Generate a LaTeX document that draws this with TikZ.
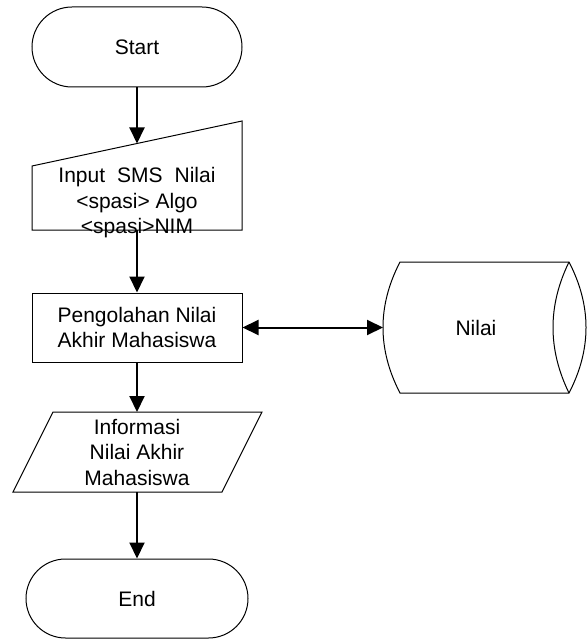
\documentclass[tikz,border=0pt]{standalone}
\usepackage{fontspec}
\setmainfont{Liberation Sans}
\usetikzlibrary{arrows.meta}
\begin{document}
\begin{tikzpicture}[x=1pt,y=-1pt,
  outline/.style={draw=black, line width=1pt},
  flow/.style={line width=2pt, -{Triangle[length=16pt,width=15pt]}},
  both/.style={line width=2pt, {Triangle[length=16pt,width=15pt]}-{Triangle[length=16pt,width=15pt]}},
  txt/.style={font=\fontsize{21}{25.5}\selectfont, align=center, inner sep=0pt, text=black}
]
\useasboundingbox (0,0) rectangle (587,639);

% terminator: Start
\node[outline, txt, rounded corners=40, minimum width=210, minimum height=80] (start) at (137,47) {Start};

% manual input
\draw[outline] (32,166) -- (242,121) -- (242,230) -- (32,230) -- cycle;
\coordinate (inTop) at (137,143.5);
\coordinate (inBot) at (137,230);
\node[txt] (input) at (137,203) {Input\hspace{12pt}SMS\hspace{12pt}Nilai\\<spasi> Algo\\<spasi>NIM};

% process
\node[outline, txt, minimum width=210, minimum height=69] (proc) at (137,327.5) {Pengolahan Nilai\\Akhir Mahasiswa};

% output (parallelogram)
\draw[outline] (53,412) -- (262,412) -- (222,492) -- (13,492) -- cycle;
\coordinate (outTop) at (137,412);
\coordinate (outBot) at (137,492);
\node[txt] (output) at (137,452) {Informasi\\Nilai Akhir\\Mahasiswa};

% terminator: End
\node[outline, txt, rounded corners=39.5, minimum width=222, minimum height=79] (end) at (137,598.5) {End};

% stored data: Nilai
\draw[outline] (400,262) -- (569,262)
  .. controls (591.67,305.67) and (591.67,349.33) .. (569,393) -- (400,393)
  .. controls (377.33,349.33) and (377.33,305.67) .. cycle;
\draw[outline] (569,262) .. controls (547.67,305.67) and (547.67,349.33) .. (569,393);
\coordinate (storeL) at (383,327.5);
\node[txt] (store) at (476,327.5) {Nilai};

% connectors
\draw[flow] (start.south) -- (inTop);
\draw[flow] (inBot) -- (proc.north);
\draw[flow] (proc.south) -- (outTop);
\draw[flow] (outBot) -- (end.north);
\draw[both] (proc.east) -- (storeL);
\end{tikzpicture}
\end{document}
